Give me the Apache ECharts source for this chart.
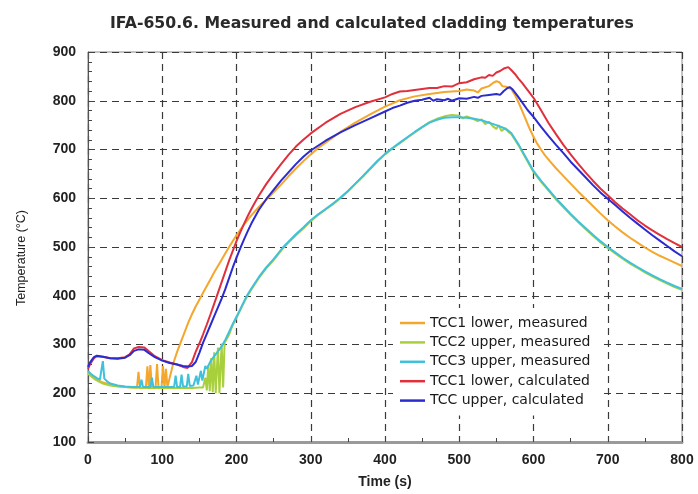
<!DOCTYPE html>
<html>
<head>
<meta charset="utf-8">
<script src="https://cdn.jsdelivr.net/npm/echarts@6/dist/echarts.min.js"></script>
<style>
  html, body { margin: 0; padding: 0; background: #ffffff; }
  #chart { width: 698px; height: 494px; }
</style>
</head>
<body>
<div id="chart"></div>
<script>
// Cladding temperatures, IFA-650.6: time in s, temperature in °C

const tcc1MeasTime = [0,5,10,15,20,30,40,50,60,66,68,70,78,80,82,84,86,91,93,95,99,101,103,105,107,110,115,120,125,130,135,140,145,150,155,160,165,170,175,180,185,190,195,200,210,220,230,240,250,260,270,280,290,300,310,320,340,360,380,400,420,440,460,480,500,510,520,525,530,540,545,550,554,558,565,570,575,580,585,590,595,600,605,610,615,622,630,640,650,660,670,680,690,700,710,720,730,740,750,760,770,780,790,800];
const tcc1MeasTemp = [242,236,230,226,222,218,215,213,212,212,244,211,212,255,210,258,211,212,260,210,212,256,210,250,212,232,262,285,305,325,345,362,378,392,406,420,434,448,461,474,487,500,512,524,546,565,582,597,612,628,645,661,676,690,703,714,736,755,772,788,801,809,814,818,820,823,821,817,825,830,836,840,838,830,828,824,812,796,778,760,742,726,712,700,689,676,662,646,630,614,599,584,569,555,542,530,519,509,499,490,482,475,468,461];

const tcc2MeasTime = [0,5,10,15,20,30,40,50,60,80,100,120,140,150,155,158,160,162,164,166,168,170,172,175,177,180,182,184,187,190,195,200,210,214,220,230,240,250,263,270,280,290,300,310,320,330,339,350,360,370,380,390,400,410,420,430,440,450,460,470,480,490,500,505,510,520,525,530,535,540,545,550,553,557,562,566,570,575,580,590,600,610,620,630,640,650,660,670,680,690,700,710,720,730,740,750,760,770,780,790,800];
const tcc2MeasTemp = [240,234,228,224,220,216,214,213,212,211,211,211,211,212,212,232,206,258,204,272,202,284,200,294,200,302,212,304,312,320,340,355,386,398,413,436,456,473,498,509,524,538,553,566,577,588,599,614,629,644,660,676,690,702,713,724,735,746,756,763,768,771,769,764,768,762,758,762,752,757,748,742,750,738,744,736,732,720,708,681,654,634,616,598,582,566,551,537,523,510,498,487,476,466,457,448,440,432,425,418,412];

const tcc3MeasTime = [0,3,8,12,16,18,20,22,26,30,40,50,60,70,72,74,84,86,88,100,110,116,118,120,124,126,128,133,135,137,142,146,148,152,154,158,160,165,170,175,180,185,190,195,200,205,210,214,220,230,240,250,263,270,280,290,300,310,320,330,339,350,360,370,380,390,400,410,420,430,440,450,460,470,480,490,500,510,520,530,540,550,560,565,570,575,580,590,600,610,620,630,640,650,660,670,680,690,700,710,720,730,740,750,760,770,780,790,800];
const tcc3MeasTemp = [246,241,235,231,228,232,266,230,224,220,216,214,213,213,228,213,213,232,213,213,213,213,236,213,213,238,214,214,240,215,216,236,218,246,226,256,250,266,276,286,296,310,326,342,357,372,388,400,415,438,458,475,500,511,526,540,555,567,578,589,600,615,630,645,661,677,691,703,714,725,736,746,755,761,765,766,766,765,763,760,755,750,744,740,734,722,710,683,656,636,618,600,584,568,553,539,525,512,500,489,478,468,459,450,442,434,427,420,414];

const tcc1CalcTime = [0,3,8,12,20,30,40,50,56,62,68,76,82,90,100,110,120,128,134,140,145,150,155,160,165,170,175,180,185,190,195,200,205,210,215,220,225,230,240,250,260,270,280,290,300,320,340,360,380,400,410,420,430,440,450,460,470,480,490,500,510,520,530,535,540,545,550,555,560,566,570,575,580,585,590,595,600,610,620,630,640,650,660,670,680,690,700,710,720,730,740,750,760,770,780,790,800];
const tcc1CalcTemp = [250,260,272,276,275,272,272,274,280,292,295,294,286,276,268,263,259,254,252,264,285,302,321,341,362,384,406,428,450,472,492,512,530,547,563,578,592,605,629,650,670,689,706,720,733,755,773,787,798,807,814,819,820,822,824,826,826,830,829,836,838,844,848,847,853,851,858,861,866,869,863,855,845,836,826,816,806,781,755,732,710,690,671,653,636,620,606,592,579,567,555,544,534,525,516,508,500];

const tccUpperCalcTime = [0,3,8,12,20,30,40,50,56,62,68,76,82,90,100,110,120,128,135,140,145,150,155,160,165,170,175,180,185,190,195,200,205,210,215,220,230,240,250,260,270,280,290,300,320,340,360,380,400,410,420,430,440,450,460,465,470,480,485,490,500,510,520,525,530,540,550,555,560,565,568,572,578,585,592,600,610,620,630,640,650,660,670,680,690,700,710,720,730,740,750,760,770,780,790,800];
const tccUpperCalcTemp = [254,264,274,277,275,272,271,273,278,287,290,289,282,274,267,262,259,256,255,256,264,283,304,322,340,358,376,394,414,436,458,478,497,515,532,548,576,598,617,636,653,670,685,698,718,735,750,764,778,785,790,796,800,802,806,800,803,801,804,800,805,804,808,806,810,812,814,812,820,826,828,823,811,796,781,767,747,728,710,693,675,659,643,627,612,599,586,573,560,548,536,524,513,502,491,481];

const seriesNames = [
  'TCC1 lower, measured',
  'TCC2 upper, measured',
  'TCC3 upper, measured',
  'TCC1 lower, calculated',
  'TCC upper, calculated'
];
const seriesColors = ['#f4a72c', '#a8cf3c', '#3fc1dc', '#e0303c', '#2b2bd0'];
const seriesTimes = [tcc1MeasTime, tcc2MeasTime, tcc3MeasTime, tcc1CalcTime, tccUpperCalcTime];
const seriesTemps = [tcc1MeasTemp, tcc2MeasTemp, tcc3MeasTemp, tcc1CalcTemp, tccUpperCalcTemp];

const pair = (ts, vs) => ts.map((t, i) => [t, vs[i]]);

const chart = echarts.init(document.getElementById('chart'), null, { renderer: 'canvas' });

const gridDash = { color: '#3a3a3a', type: [7, 5], width: 1.2 };
const sans = 'Liberation Sans, Arial, sans-serif';
const wide = 'DejaVu Sans, Verdana, sans-serif';

chart.setOption({
  animation: false,
  backgroundColor: '#ffffff',
  title: {
    text: 'IFA-650.6. Measured and calculated cladding temperatures',
    left: 105,
    top: 11,
    textStyle: { fontFamily: wide, fontSize: 15.7, fontWeight: 'bold', color: '#2a2a2a' }
  },
  graphic: [{
    type: 'text',
    x: 22,
    y: 258,
    rotation: Math.PI / 2,
    style: {
      text: 'Temperature (°C)',
      font: 'normal 12.5px ' + sans,
      fill: '#222',
      align: 'center',
      verticalAlign: 'middle'
    }
  }],
  grid: {
    left: 88, right: 16, top: 52, bottom: 50,
    show: true, borderColor: '#8a8a8a', borderWidth: 1
  },
  legend: {
    orient: 'vertical',
    left: 393,
    top: 308,
    padding: [8, 10, 8, 7],
    backgroundColor: '#ffffff',
    icon: 'rect',
    itemWidth: 25,
    itemHeight: 2.5,
    itemGap: 5.4,
    data: seriesNames,
    textStyle: { fontFamily: wide, fontSize: 14, color: '#1a1a1a' }
  },
  xAxis: {
    type: 'value',
    min: 0, max: 800, interval: 100,
    name: 'Time (s)',
    nameLocation: 'middle',
    nameGap: 33,
    nameTextStyle: { fontFamily: sans, fontSize: 14, fontWeight: 'bold', color: '#222' },
    axisLine: { show: true, onZero: false, lineStyle: { color: '#9a9a9a', width: 3 } },
    axisTick: { show: true, inside: true, length: 5, lineStyle: { color: '#444' } },
    minorTick: { show: true, splitNumber: 2, length: 4, lineStyle: { color: '#444' } },
    axisLabel: { margin: 11, fontFamily: sans, fontSize: 14, fontWeight: 'bold', color: '#222' },
    splitLine: { show: true, lineStyle: gridDash }
  },
  yAxis: {
    type: 'value',
    min: 100, max: 900, interval: 100,
    axisLine: { show: true, onZero: false, lineStyle: { color: '#555', width: 1 } },
    axisTick: { show: true, inside: true, length: 6, lineStyle: { color: '#444' } },
    minorTick: { show: true, splitNumber: 5, length: 4, lineStyle: { color: '#444' } },
    axisLabel: { margin: 12, fontFamily: sans, fontSize: 14, fontWeight: 'bold', color: '#222' },
    splitLine: { show: true, lineStyle: gridDash }
  },
  series: seriesNames.map((name, i) => ({
    name: name,
    type: 'line',
    data: pair(seriesTimes[i], seriesTemps[i]),
    symbol: 'none',
    smooth: false,
    color: seriesColors[i],
    lineStyle: { width: 2, color: seriesColors[i] },
    z: 2 + i
  }))
});
</script>
</body>
</html>
